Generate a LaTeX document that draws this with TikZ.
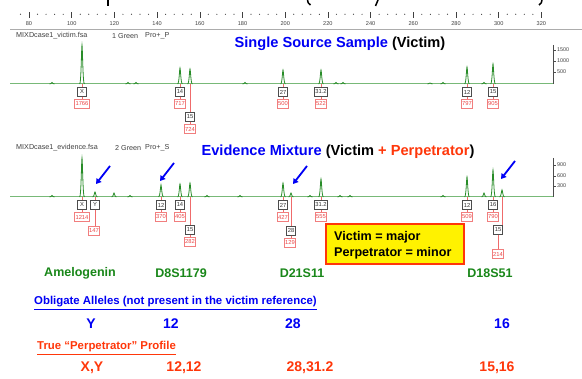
\documentclass[tikz,border=0pt]{standalone}
\usepackage{fontspec}
\setmainfont{Liberation Sans}
\usetikzlibrary{arrows.meta}
\definecolor{traceGreen}{RGB}{40,140,40}
\definecolor{baseGreen}{RGB}{120,185,120}
\definecolor{locusGreen}{RGB}{25,135,25}
\definecolor{perpRed}{RGB}{255,55,10}
\definecolor{boxRed}{RGB}{235,70,70}
\definecolor{titleBlue}{RGB}{0,0,245}
\newcommand\peakat[3]{\draw[peak] (#1-2.4,#2) .. controls (#1-0.8,#2) and (#1-0.5,#3) .. (#1,#3) .. controls (#1+0.5,#3) and (#1+0.8,#2) .. (#1+2.4,#2);}
\tikzset{
  peak/.style={traceGreen, line width=0.8pt},
  baseline/.style={baseGreen, line width=1pt},
  tickline/.style={gray!50!black, line width=0.6pt},
  ticklab/.style={gray!50!black, font=\fontsize{5.6}{6}\selectfont, inner sep=0pt},
  filelab/.style={black!75, font=\fontsize{7.2}{7}\selectfont, inner sep=0pt, anchor=west},
  gbox/.style={draw=gray!60!black, fill=white, line width=0.7pt, inner sep=0.9pt,
    minimum width=9pt, minimum height=8.5pt, text=black!80, font=\fontsize{5.8}{6}\selectfont},
  rbox/.style={draw=boxRed!70, fill=white, line width=0.7pt, inner sep=0.9pt,
    minimum width=9pt, minimum height=8.5pt, text=boxRed, font=\fontsize{5.8}{6}\selectfont},
  rline/.style={boxRed!80, line width=0.6pt},
  callout/.style={titleBlue, line width=1.8pt, -{Triangle[length=5pt,width=6pt]}},
  locus/.style={locusGreen, font=\fontsize{12.5}{13}\selectfont\bfseries, inner sep=0pt},
  bigblue/.style={titleBlue, font=\fontsize{14}{15}\selectfont\bfseries, inner sep=0pt},
  bigred/.style={perpRed, font=\fontsize{14}{15}\selectfont\bfseries, inner sep=0pt},
  title/.style={font=\fontsize{14.6}{16}\selectfont\bfseries, inner sep=0pt},
  yaxlab/.style={black!75, font=\fontsize{5.4}{5.5}\selectfont, inner sep=0pt, anchor=west},
}
\begin{document}
\begin{tikzpicture}[x=1pt,y=-1pt]
\useasboundingbox[fill=white] (0,0) rectangle (582,379);

% clipped heading above the ruler: only its lowest strokes remain
\draw[line width=1.8pt] (108,0) -- (108,6);
\draw[line width=1.5pt] (307.5,0) .. controls (308,3) .. (310.5,5);
\draw[line width=1.5pt] (378,0) -- (375.5,6);
\draw[line width=1.5pt] (542,0) .. controls (541.5,3) .. (539,5);

% size ruler
\draw[gray!65, line width=1.3pt] (10,29.5) -- (582,29.5);
\foreach \k in {0,...,12} {
  \pgfmathsetmacro\xx{29+\k*42.7}
  \pgfmathtruncatemacro\lab{80+20*\k}
  \draw[tickline] (\xx,12.5) -- (\xx,18.5);
  \node[ticklab] (t\k) at (\xx,23.5) {\lab};
}
\foreach \k in {-1,...,60} {
  \pgfmathtruncatemacro\m{mod(\k+5,5)}
  \ifnum\m=0\else
    \pgfmathsetmacro\xx{29+\k*8.54}
    \fill[gray!50!black] (\xx,14.3) circle (0.6pt);
  \fi
}

% ---------- single source trace ----------
\node[filelab] (f1a) at (16,36) {MIXDcase1\_victim.fsa};
\node[filelab] (f1b) at (112,36) {1 Green};
\node[filelab] (f1c) at (145,36) {Pro+\_P};
\node[title] (h1) at (340,44) {\textcolor{titleBlue}{Single Source Sample} (Victim)};
\draw[baseline] (10,84) -- (553,84);
\draw[black!70, line width=0.6pt] (553,45) -- (553,84);
\foreach \yy/\lab in {50/1500,61/1000,72/500} {
  \draw[black!70, line width=0.5pt] (553,\yy) -- (556,\yy);
  \node[yaxlab] (ya\lab) at (557,\yy) {\lab};
}
\foreach \xx/\hh in {52/82.5,128/82.5,136/82.5,245/82.5,336/82.5,343/82.5,443/82.5,484/82.5,430/83} {
  \peakat{\xx}{84}{\hh}
}
\peakat{82}{84}{45}
\peakat{180}{84}{68}
\peakat{190}{84}{69}
\peakat{283}{84}{70}
\peakat{321}{84}{70}
\peakat{467}{84}{67}
\peakat{493}{84}{64}

\foreach \nm/\xx/\al/\rf in {a/82/X/1766, b/180/14/717, d/283/27/500, e/321/31.2/522, f/467/12/797, g/493/15/905} {
  \coordinate (p1\nm) at (\xx,84);
  \node[gbox] (g1\nm) at (\xx,92) {\al};
  \node[rbox] (r1\nm) at (\xx,104) {\rf};
  \draw[rline] (p1\nm) -- (g1\nm);
  \draw[rline] (g1\nm) -- (r1\nm);
}
\coordinate (p1c) at (190,84);
\node[gbox] (g1c) at (190,117) {15};
\node[rbox] (r1c) at (190,129) {724};
\draw[rline] (p1c) -- (g1c);
\draw[rline] (g1c) -- (r1c);

% ---------- evidence mixture trace ----------
\node[filelab] (f2a) at (16,148) {MIXDcase1\_evidence.fsa};
\node[filelab] (f2b) at (115,148) {2 Green};
\node[filelab] (f2c) at (145,148) {Pro+\_S};
\node[title] (h2) at (338,152) {\textcolor{titleBlue}{Evidence Mixture} (Victim \textcolor{perpRed}{+ Perpetrator})};
\draw[baseline] (10,197) -- (553,197);
\draw[black!70, line width=0.6pt] (553,158) -- (553,197);
\foreach \yy/\lab in {165/900,176/600,186/300} {
  \draw[black!70, line width=0.5pt] (553,\yy) -- (556,\yy);
  \node[yaxlab] (yb\lab) at (557,\yy) {\lab};
}
\foreach \xx/\hh in {52/195.5,130/195.5,207/195.5,240/195.5,310/195.5,340/195.5,350/195.5,443/195.5} {
  \peakat{\xx}{197}{\hh}
}
\peakat{114}{197}{193}
\peakat{484}{197}{193}
\peakat{82}{197}{158}
\peakat{95}{197}{192}
\peakat{161}{197}{185}
\peakat{180}{197}{184}
\peakat{190}{197}{183}
\peakat{283}{197}{183}
\peakat{291}{197}{193}
\peakat{321}{197}{179}
\peakat{467}{197}{177}
\peakat{493}{197}{170}
\peakat{502}{197}{190}

\foreach \nm/\xx/\al/\rf in {a/82/X/1214, c/161/12/370, d/180/14/405, f/283/27/427, h/321/31.2/555, i/467/12/509, j/493/16/790} {
  \coordinate (p2\nm) at (\xx,197);
  \node[gbox] (g2\nm) at (\xx,205) {\al};
  \node[rbox] (r2\nm) at (\xx,217) {\rf};
  \draw[rline] (p2\nm) -- (g2\nm);
  \draw[rline] (g2\nm) -- (r2\nm);
}
% minor peaks labelled lower down
\coordinate (p2b) at (95,197);
\node[gbox] (g2b) at (95,205) {Y};
\node[rbox] (r2b) at (94,231) {147};
\draw[rline] (p2b) -- (g2b);
\draw[rline] (g2b.south) -- (r2b.north -| g2b.south);

\coordinate (p2e) at (190,197);
\node[gbox] (g2e) at (190,230) {15};
\node[rbox] (r2e) at (190,242) {282};
\draw[rline] (p2e) -- (g2e);
\draw[rline] (g2e) -- (r2e);

\coordinate (p2g) at (291,197);
\node[gbox] (g2g) at (291,231) {28};
\node[rbox] (r2g) at (290,243) {129};
\draw[rline] (p2g) -- (g2g);
\draw[rline] (g2g.south) -- (r2g.north -| g2g.south);

\coordinate (p2k) at (502,197);
\node[gbox] (g2k) at (498,230) {15};
\node[rbox] (r2k) at (498,254) {214};
\draw[rline] (p2k) -- (p2k |- g2k.north);
\draw[rline] (g2k) -- (r2k);

% arrows onto the perpetrator's minor peaks
\coordinate (aT1) at (110,166); \coordinate (aH1) at (96,184);
\coordinate (aT2) at (174,163); \coordinate (aH2) at (160,181);
\coordinate (aT3) at (307,166); \coordinate (aH3) at (293,184);
\coordinate (aT4) at (515,161); \coordinate (aH4) at (501,179);
\foreach \i in {1,...,4} { \draw[callout] (aT\i) -- (aH\i); }

% key box
\node[draw=perpRed, fill=yellow, line width=1.8pt, minimum width=138pt, minimum height=40pt,
  inner sep=0pt] (key) at (395,244) {};
\node[anchor=west, align=left, font=\fontsize{12.6}{16}\selectfont\bfseries, inner sep=0pt]
  (keytext) at (334,245) {Victim = major\\Perpetrator = minor};

% locus names
\node[locus] (l1) at (80,273) {Amelogenin};
\node[locus] (l2) at (181,273) {D8S1179};
\node[locus] (l3) at (302,273) {D21S11};
\node[locus] (l4) at (490,273) {D18S51};

% obligate alleles
\node[anchor=west, titleBlue, font=\fontsize{11.4}{12}\selectfont\bfseries, inner sep=0pt]
  (ob) at (34,303) {\underline{Obligate Alleles (not present in the victim reference)}};
\node[bigblue] (o1) at (91,324) {Y};
\node[bigblue] (o2) at (171,324) {12};
\node[bigblue] (o3) at (293,324) {28};
\node[bigblue] (o4) at (502,324) {16};

% true perpetrator profile
\node[anchor=west, perpRed, font=\fontsize{11.4}{12}\selectfont\bfseries, inner sep=0pt]
  (tp) at (37,348) {\underline{True “Perpetrator” Profile}};
\node[bigred] (q1) at (92,368) {X,Y};
\node[bigred] (q2) at (184,368) {12,12};
\node[bigred] (q3) at (310,368) {28,31.2};
\node[bigred] (q4) at (497,368) {15,16};
\end{tikzpicture}
\end{document}
